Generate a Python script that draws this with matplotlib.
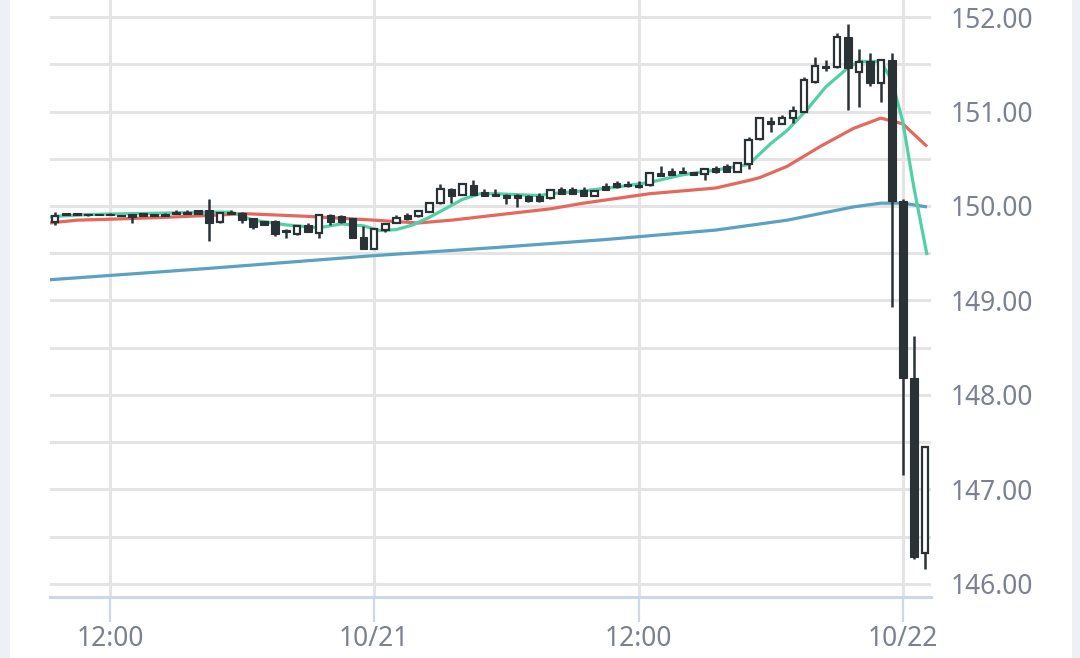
import numpy as np
import matplotlib
matplotlib.use("Agg")
import matplotlib.pyplot as plt
from matplotlib.patches import Rectangle

# 30-minute candles, 10/20 09:30 -> 10/22 01:00
opens = [149.83, 149.93, 149.93, 149.92, 149.92, 149.91, 149.90, 149.92, 149.925, 149.92,
         149.91, 149.935, 149.935, 149.955, 149.955, 149.83, 149.935, 149.93, 149.87, 149.845,
         149.845, 149.75, 149.70, 149.80, 149.715, 149.905, 149.89, 149.87, 149.675, 149.55,
         149.75, 149.82, 149.90, 149.89, 149.94, 150.03, 150.18, 150.12, 150.22, 150.15,
         150.13, 150.12, 150.12, 150.11, 150.11, 150.08, 150.18, 150.18, 150.17, 150.11,
         150.21, 150.24, 150.23, 150.225, 150.22, 150.35, 150.37, 150.37, 150.36, 150.34,
         150.40, 150.42, 150.36, 150.44, 150.71, 150.90, 150.87, 150.93, 151.00, 151.31,
         151.48, 151.47, 151.79, 151.42, 151.53, 151.30, 151.54, 150.05, 148.18, 146.33]
highs = [149.94, 149.93, 149.93, 149.92, 149.92, 149.93, 149.90, 149.92, 149.925, 149.92,
         149.93, 149.96, 149.96, 149.96, 150.07, 149.94, 149.955, 149.935, 149.87, 149.845,
         149.85, 149.76, 149.79, 149.82, 149.92, 149.91, 149.905, 149.875, 149.79, 149.765,
         149.815, 149.90, 149.93, 149.955, 150.035, 150.23, 150.19, 150.235, 150.27, 150.18,
         150.18, 150.125, 150.125, 150.115, 150.14, 150.175, 150.20, 150.20, 150.20, 150.165,
         150.24, 150.265, 150.265, 150.26, 150.36, 150.42, 150.40, 150.41, 150.365, 150.395,
         150.425, 150.44, 150.455, 150.73, 150.94, 150.94, 150.96, 151.06, 151.36, 151.58,
         151.54, 151.83, 151.93, 151.66, 151.62, 151.545, 151.62, 150.07, 148.62, 147.46]
lows = [149.80, 149.90, 149.90, 149.895, 149.90, 149.90, 149.89, 149.82, 149.895, 149.895,
        149.895, 149.92, 149.92, 149.915, 149.63, 149.82, 149.92, 149.82, 149.755, 149.80,
        149.68, 149.66, 149.69, 149.72, 149.66, 149.80, 149.825, 149.66, 149.54, 149.545,
        149.725, 149.815, 149.855, 149.885, 149.935, 150.025, 150.03, 150.115, 150.115, 150.105,
        150.105, 150.02, 149.99, 150.045, 150.045, 150.075, 150.125, 150.125, 150.105, 150.105,
        150.165, 150.195, 150.205, 150.195, 150.215, 150.315, 150.325, 150.345, 150.325, 150.28,
        150.345, 150.355, 150.355, 150.39, 150.70, 150.78, 150.865, 150.88, 150.995, 151.305,
        151.43, 151.465, 151.02, 151.05, 151.27, 151.10, 148.93, 147.15, 146.26, 146.16]
closes = [149.89, 149.90, 149.90, 149.90, 149.90, 149.90, 149.89, 149.885, 149.895, 149.895,
          149.895, 149.92, 149.92, 149.915, 149.82, 149.93, 149.92, 149.855, 149.78, 149.80,
          149.70, 149.72, 149.785, 149.725, 149.90, 149.835, 149.83, 149.66, 149.545, 149.76,
          149.81, 149.87, 149.86, 149.95, 150.03, 150.18, 150.11, 150.23, 150.12, 150.11,
          150.11, 150.08, 150.08, 150.05, 150.05, 150.17, 150.13, 150.13, 150.11, 150.16,
          150.17, 150.20, 150.21, 150.20, 150.35, 150.32, 150.33, 150.35, 150.33, 150.39,
          150.36, 150.36, 150.45, 150.70, 150.93, 150.87, 150.93, 151.01, 151.33, 151.48,
          151.46, 151.79, 151.46, 151.52, 151.30, 151.54, 150.05, 148.18, 146.29, 147.45]

# moving averages (candle index, price)
ma_short_idx = [-0.5, 0, 3, 5, 10, 14, 16, 18, 21, 24, 26, 28, 29.5, 31, 32.5, 34, 35.6, 37,
                38.6, 40, 42, 44, 45, 48, 51, 54, 57, 60, 63, 65, 66.5, 68.3, 70, 72, 73, 74,
                75, 76, 77, 78, 79.2]
ma_short = [149.885, 149.89, 149.91, 149.915, 149.925, 149.935, 149.935, 149.85, 149.80,
            149.77, 149.81, 149.79, 149.74, 149.75, 149.80, 149.88, 149.98, 150.07, 150.13,
            150.13, 150.12, 150.11, 150.13, 150.16, 150.20, 150.25, 150.33, 150.38, 150.44,
            150.66, 150.80, 151.02, 151.26, 151.46, 151.53, 151.53, 151.53, 151.33, 150.89,
            150.20, 149.48]
ma_mid_idx = [-0.5, 2, 5, 10, 15, 17, 23, 29, 31, 33, 36, 39, 42, 45, 48, 51, 54, 57, 60,
              63, 64, 66.5, 69.5, 72.5, 75, 76, 77, 78, 79.2]
ma_mid = [149.82, 149.85, 149.86, 149.88, 149.905, 149.92, 149.89, 149.85, 149.835, 149.82,
          149.85, 149.89, 149.93, 149.97, 150.03, 150.08, 150.13, 150.16, 150.19, 150.27,
          150.30, 150.42, 150.63, 150.82, 150.93, 150.90, 150.87, 150.76, 150.63]
ma_long_idx = [-1, 14, 29, 40, 50, 60, 66.5, 69.5, 72.5, 75, 77, 79.2]
ma_long = [149.215, 149.34, 149.475, 149.56, 149.645, 149.745, 149.85, 149.92, 149.99,
           150.03, 150.03, 149.99]

tick_pos = [5, 29, 53, 77]
tick_labels = ['12:00', '10/21', '12:00', '10/22']
price_ticks = [146, 147, 148, 149, 150, 151, 152]

dark = '#2a3236'
grid_c = '#e4e4e4'
axis_c = '#cdd6ea'
text_c = '#7b8194'

fig = plt.figure(figsize=(10.8, 6.58), dpi=100)
fig.patch.set_facecolor('#edf0f4')
fig.add_artist(Rectangle((10 / 1080, 0), 1062 / 1080, 1, transform=fig.transFigure,
                         facecolor='white', edgecolor='none', zorder=0))
ax = fig.add_axes([50 / 1080, 61 / 658, 881 / 1080, 597 / 658])
ax.set_facecolor('none')

o = np.array(opens)
h = np.array(highs)
l = np.array(lows)
c = np.array(closes)
x = np.arange(len(o))
up = c >= o

# grid
for yv in np.arange(146, 152.01, 0.5):
    ax.axhline(yv, color=grid_c, lw=2.2, zorder=0)
for xv in tick_pos:
    ax.axvline(xv, color=grid_c, lw=2.2, zorder=0)

# moving averages
ax.plot(ma_long_idx, ma_long, color='#5aa1c2', lw=2.3, zorder=2, solid_capstyle='butt')
ax.plot(ma_mid_idx, ma_mid, color='#e5685e', lw=2.3, zorder=2, solid_capstyle='butt')
ax.plot(ma_short_idx, ma_short, color='#52d0a5', lw=2.3, zorder=2, solid_capstyle='butt')

# candles
ax.vlines(x, l, h, color=dark, lw=1.8, zorder=3)
bottom = np.minimum(o, c)
height = np.maximum(np.abs(c - o), 0.015)
ax.bar(x[~up], height[~up], bottom=bottom[~up], width=0.68, color=dark,
       edgecolor=dark, lw=0.8, zorder=4)
ax.bar(x[up], height[up], bottom=bottom[up], width=0.58, color='white',
       edgecolor=dark, lw=1.6, zorder=4)

ax.set_xlim(-0.454, 79.56)
ax.set_ylim(145.862, 152.18)

ax.set_xticks(tick_pos)
ax.set_xticklabels(tick_labels)
ax.set_yticks(price_ticks)
ax.set_yticklabels([f'{p:.2f}' for p in price_ticks])
ax.yaxis.tick_right()
for sp in ['top', 'left', 'right']:
    ax.spines[sp].set_visible(False)
ax.spines['bottom'].set_color(axis_c)
ax.spines['bottom'].set_linewidth(2.2)
ax.tick_params(axis='x', length=18, width=1.6, color=axis_c, pad=2,
               labelcolor=text_c, labelsize=19)
ax.tick_params(axis='y', length=0, pad=14, labelcolor=text_c, labelsize=19)
for lab in ax.get_xticklabels() + ax.get_yticklabels():
    lab.set_family('Noto Sans')

fig.savefig('out.png', dpi=100)
